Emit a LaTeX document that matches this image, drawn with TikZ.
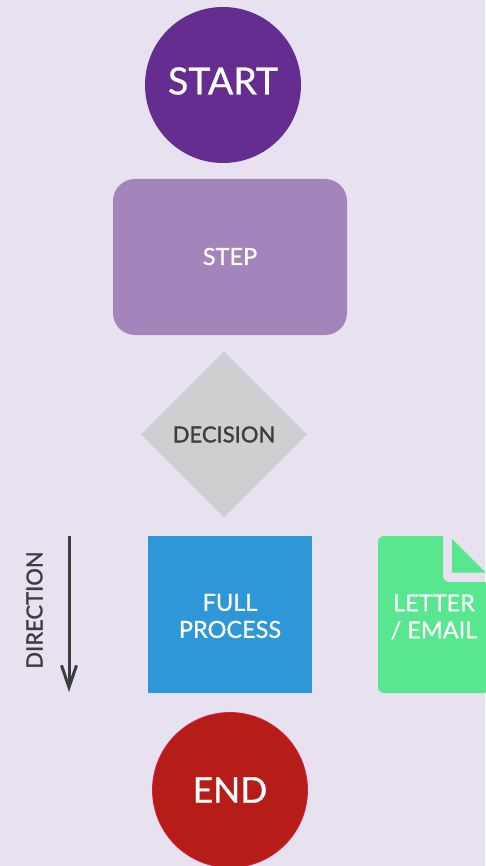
\documentclass[tikz,border=0pt]{standalone}
\usepackage{fontspec}
\setmainfont[FakeBold=0.7]{Lato}
\newfontfamily\heavyfont[FakeBold=1.3]{Lato}
\usepackage{tikz}
\usetikzlibrary{shapes.geometric,arrows.meta}
\definecolor{pagebg}{HTML}{E8E1F0}
\definecolor{startfill}{HTML}{652D90}
\definecolor{stepfill}{HTML}{A385BC}
\definecolor{decisionfill}{HTML}{CDCFD1}
\definecolor{processfill}{HTML}{2E97D8}
\definecolor{letterfill}{HTML}{58E68F}
\definecolor{endfill}{HTML}{B61C18}
\definecolor{endrim}{HTML}{DC1C3C}
\definecolor{inktext}{HTML}{3D3D3D}
\def\roundnode{\node[circle,minimum size=156pt,inner sep=0pt,text=white,font=\fontsize{35.5}{36}\selectfont]}
\def\labelnode{\node[text=white,align=center,inner sep=0pt,font=\fontsize{23.5}{27}\selectfont]}

\begin{document}
\begin{tikzpicture}[x=1pt,y=-1pt]
\useasboundingbox (0,0) rectangle (485,866);
\fill[pagebg] (0,0) rectangle (485,866);

% -------- the column of shapes ---------
\roundnode[fill=startfill] (start) at (223,85) {};
\node[text=white,inner sep=0pt,font=\fontsize{37.5}{36}\selectfont] (startlabel) at (223,81) {START};
\node[fill=stepfill,rounded corners=22pt,minimum width=234pt,minimum height=156pt,inner sep=0pt] (stepbox) at (230,257) {};
\labelnode (steplabel) at (230,256.5) {STEP};
\node[diamond,fill=decisionfill,minimum width=166pt,minimum height=166pt,aspect=1,inner sep=0pt,
  text=inktext,font=\heavyfont\fontsize{22}{27}\selectfont] (decision) at (224,434.5) {DECISION};
\node[fill=processfill,minimum width=164pt,minimum height=157pt,inner sep=0pt] (process) at (230,614.5) {};
\labelnode (processlabel) at (230,616) {FULL\\PROCESS};
\roundnode[fill=endfill,draw=endrim,line width=0.8pt,minimum size=155pt] (end) at (230,790) {END};

% -------- letter, runs off the right edge ---------
\fill[letterfill,rounded corners=6pt] (443,536) -- (443,582) -- (490,582) -- (490,693) -- (378,693)
  -- (378,536) -- (400,536) [sharp corners] -- cycle;
\fill[letterfill] (452,539) -- (452,572.5) -- (485.5,572.5) -- cycle;
\labelnode (letterlabel) at (434,617) {LETTER\\/ EMAIL};

% -------- direction arrow ---------
\coordinate (dirtop) at (69,536);
\coordinate (dirbottom) at (69,692);
\draw[inktext,line width=3pt,-{Straight Barb[length=22pt,width=15pt,line width=3pt]}] (dirtop) to (dirbottom);
\node[rotate=90,text=inktext,inner sep=0pt,font=\heavyfont\fontsize{22}{27}\selectfont] (direction) at (34.5,610) {DIRECTION};
\end{tikzpicture}
\end{document}
